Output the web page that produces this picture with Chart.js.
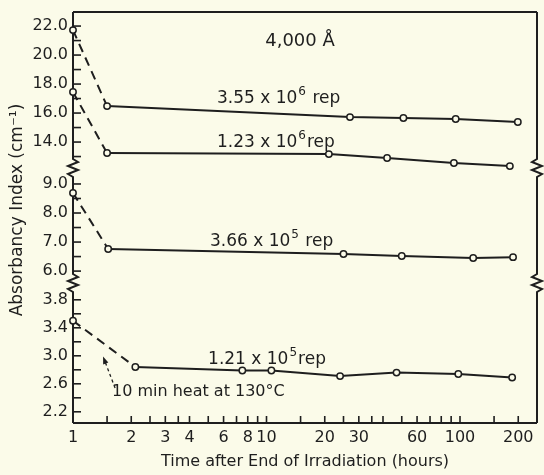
<!DOCTYPE html>
<html><head><meta charset="utf-8">
<script src="https://cdn.jsdelivr.net/npm/chart.js@4.4.0/dist/chart.umd.min.js"></script>
<style>
html,body{margin:0;padding:0;background:#fbfbe9;}
#wrap{width:544px;height:475px;position:relative;}
</style></head><body>
<div id="wrap"><canvas id="c"></canvas></div>
<script>
// ---------- data ----------
const hours355e6 = [1, 1.5, 27, 51, 95, 199];
const index355e6 = [21.72, 16.48, 15.72, 15.66, 15.59, 15.38];
const hours123e6 = [1, 1.5, 21, 42, 93, 181];
const index123e6 = [17.45, 13.24, 13.17, 12.9, 12.55, 12.34];
const hours366e5 = [1, 1.52, 25, 50, 117, 188];
const index366e5 = [8.69, 6.76, 6.59, 6.52, 6.45, 6.48];
const hours121e5 = [1, 2.1, 7.5, 10.6, 24, 47, 98, 186];
const index121e5 = [3.5, 2.84, 2.79, 2.79, 2.71, 2.76, 2.74, 2.69];

const xTickValues = [1,1.5,2,2.5,3,3.5,4,5,6,7,8,9,10,15,20,25,30,35,40,50,60,70,80,90,100,150,200];
const xTickLabels = [1,2,3,4,6,8,10,20,30,60,100,200];
const yTopTicks = [13,14,15,16,17,18,19,20,21,22];
const yTopLabels = [14,16,18,20,22];
const yMidTicks = [6,6.5,7,7.5,8,8.5,9];
const yMidLabels = [6,7,8,9];
const yBotTicks = [2.2,2.4,2.6,2.8,3.0,3.2,3.4,3.6,3.8];
const yBotLabels = [2.2,2.6,3.0,3.4,3.8];

const curveBase = ['3.55 x 10', '1.23 x 10', '3.66 x 10', '1.21 x 10'];
const curveExp = ['6', '6', '5', '5'];
const curveTail = [' rep', 'rep', ' rep', 'rep'];
const wavelengthText = '4,000 Å';
const heatText = '10 min heat at 130°C';
const xTitle = 'Time after End of Irradiation (hours)';
const yTitle = 'Absorbancy Index (cm⁻¹)';

// ---------- style ----------
const BG = '#fbfbe9', INK = '#1e1e1e', FONT = "'DejaVu Sans', sans-serif";

const pts = (xs, ys) => xs.map((x, i) => ({x, y: ys[i]}));
function ds(xs, ys, axis) {
  return {
    data: pts(xs, ys), yAxisID: axis, borderColor: INK, borderWidth: 2,
    pointRadius: 3.2, pointBorderWidth: 1.5, pointBackgroundColor: BG, pointBorderColor: INK,
    tension: 0, clip: false,
    segment: { borderDash: c => c.p0DataIndex === 0 ? [9, 6] : [] }
  };
}

function yScale(min, max, tickVals, labelVals, weight, sw) {
  return {
    type: 'linear', position: 'left', stack: 'ys', stackWeight: sw, weight, min, max,
    grid: {display: false, drawTicks: false}, border: {display: false},
    afterBuildTicks: s => { s.ticks = tickVals.map(v => ({value: v})); },
    afterFit: s => { s.width = 63; s.paddingTop = 0; s.paddingBottom = 0; },
    ticks: {autoSkip: false, padding: 5, color: INK, font: {family: FONT, size: 16},
      callback: v => labelVals.includes(v) ? v.toFixed(1) : ''}
  };
}

// annotation anchors (layout)
const anchors = {
  curve: [
    {t: 5.55, v: 16.69, axis: 'yTop'},
    {t: 5.55, v: 13.66, axis: 'yTop'},
    {t: 5.1, v: 6.86, axis: 'yMid'},
    {t: 4.99, v: 2.886, axis: 'yBot'}
  ],
  wave: {t: 14.9, v: 20.62, axis: 'yTop'},
  heat: {t: 1.59, v: 2.43, axis: 'yBot'},
  arrowFrom: {t: 1.65, v: 2.54}, arrowTo: {t: 1.43, v: 2.99}
};

function zig(ctx, x, yc, dir) {
  const h = 9, a = 5;
  ctx.lineTo(x, yc - h);
  ctx.lineTo(x + a * dir, yc - h + 3);
  ctx.lineTo(x - a * dir, yc - 2);
  ctx.lineTo(x + a * dir, yc + 2);
  ctx.lineTo(x - a * dir, yc + h - 3);
  ctx.lineTo(x, yc + h);
}

const framePlugin = {
  id: 'frame',
  beforeDraw(chart) {
    const {ctx, width, height} = chart;
    ctx.save(); ctx.fillStyle = BG; ctx.fillRect(0, 0, width, height); ctx.restore();
  },
  beforeDatasetsDraw(chart) {
    const {ctx, chartArea: {left, right, top, bottom}, scales} = chart;
    const b1 = scales.yTop.bottom, b2 = scales.yMid.bottom;
    ctx.save();
    ctx.setLineDash([]);
    ctx.strokeStyle = INK; ctx.lineWidth = 2; ctx.lineJoin = 'miter';
    ctx.beginPath(); ctx.moveTo(left, top); ctx.lineTo(right, top); ctx.stroke();
    ctx.beginPath(); ctx.moveTo(left, bottom); ctx.lineTo(right, bottom); ctx.stroke();
    for (const x of [left, right]) {
      ctx.beginPath(); ctx.moveTo(x, top);
      zig(ctx, x, b1, x === left ? 1 : -1);
      zig(ctx, x, b2, x === left ? 1 : -1);
      ctx.lineTo(x, bottom); ctx.stroke();
    }
    ctx.restore();
  },
  afterDatasetsDraw(chart) {
    const {ctx, scales, chartArea} = chart;
    const X = t => scales.x.getPixelForValue(t);
    ctx.save();
    ctx.fillStyle = INK;
    // inward tick marks
    const groups = [['yTop', yTopTicks], ['yMid', yMidTicks], ['yBot', yBotTicks]];
    groups.forEach(([id, vals]) => {
      vals.forEach(v => {
        const y = scales[id].getPixelForValue(v);
        ctx.fillRect(chartArea.left, y - 0.8, 8, 1.6);
      });
    });
    xTickValues.forEach(t => {
      if (t === 1) return;
      ctx.fillRect(X(t) - 0.8, chartArea.bottom - 7, 1.6, 7);
    });

    ctx.textBaseline = 'alphabetic';
    anchors.curve.forEach((a, i) => {
      let x = X(a.t); const y = scales[a.axis].getPixelForValue(a.v);
      ctx.font = `17px ${FONT}`; ctx.textAlign = 'left';
      ctx.fillText(curveBase[i], x, y); x += ctx.measureText(curveBase[i]).width + 1;
      ctx.font = `12px ${FONT}`;
      ctx.fillText(curveExp[i], x, y - 8); x += ctx.measureText(curveExp[i]).width + 1;
      ctx.font = `17px ${FONT}`;
      ctx.fillText(curveTail[i], x, y);
    });
    ctx.font = `18px ${FONT}`; ctx.textAlign = 'center';
    ctx.fillText(wavelengthText, X(anchors.wave.t), scales[anchors.wave.axis].getPixelForValue(anchors.wave.v));
    ctx.font = `16px ${FONT}`; ctx.textAlign = 'left';
    ctx.fillText(heatText, X(anchors.heat.t), scales.yBot.getPixelForValue(anchors.heat.v));
    const x0 = X(anchors.arrowFrom.t), y0 = scales.yBot.getPixelForValue(anchors.arrowFrom.v);
    const x1 = X(anchors.arrowTo.t), y1 = scales.yBot.getPixelForValue(anchors.arrowTo.v);
    const ang = Math.atan2(y1 - y0, x1 - x0);
    ctx.strokeStyle = INK; ctx.lineWidth = 1.3; ctx.setLineDash([3, 3]);
    ctx.beginPath(); ctx.moveTo(x0, y0); ctx.lineTo(x1 - 6 * Math.cos(ang), y1 - 6 * Math.sin(ang)); ctx.stroke();
    ctx.setLineDash([]);
    ctx.beginPath();
    ctx.moveTo(x1, y1);
    ctx.lineTo(x1 - 8 * Math.cos(ang - 0.35), y1 - 8 * Math.sin(ang - 0.35));
    ctx.lineTo(x1 - 8 * Math.cos(ang + 0.35), y1 - 8 * Math.sin(ang + 0.35));
    ctx.closePath(); ctx.fill();
    ctx.save();
    ctx.translate(18, 210); ctx.rotate(-Math.PI / 2);
    ctx.font = `17px ${FONT}`; ctx.textAlign = 'center'; ctx.textBaseline = 'middle';
    ctx.fillText(yTitle, 0, 0);
    ctx.restore();
    ctx.restore();
  }
};

new Chart(document.getElementById('c'), {
  type: 'line',
  data: {
    datasets: [
      ds(hours355e6, index355e6, 'yTop'),
      ds(hours123e6, index123e6, 'yTop'),
      ds(hours366e5, index366e5, 'yMid'),
      ds(hours121e5, index121e5, 'yBot')
    ]
  },
  options: {
    responsive: true, maintainAspectRatio: false, animation: false,
    layout: {padding: {left: 10, right: 7, top: 12, bottom: 0}},
    plugins: {legend: {display: false}, tooltip: {enabled: false}},
    scales: {
      x: {
        type: 'logarithmic', min: 1, max: 250, position: 'bottom',
        grid: {display: false, drawTicks: false}, border: {display: false},
        afterBuildTicks: s => { s.ticks = xTickValues.map(v => ({value: v})); },
        afterFit: s => { s.height = 52; s.paddingLeft = 0; s.paddingRight = 0; },
        ticks: {autoSkip: false, maxRotation: 0, padding: 5, color: INK, font: {family: FONT, size: 16},
          callback: v => xTickLabels.includes(v) ? String(v) : ''},
        title: {display: true, text: xTitle, color: INK, font: {family: FONT, size: 16}, padding: {top: 0, bottom: 4}}
      },
      yTop: yScale(12.21, 22.97, yTopTicks, yTopLabels, 3, 156),
      yMid: yScale(5.59, 9.55, yMidTicks, yMidLabels, 2, 115),
      yBot: yScale(2.04, 4.04, yBotTicks, yBotLabels, 1, 140)
    }
  },
  plugins: [framePlugin]
});
</script>
</body></html>
